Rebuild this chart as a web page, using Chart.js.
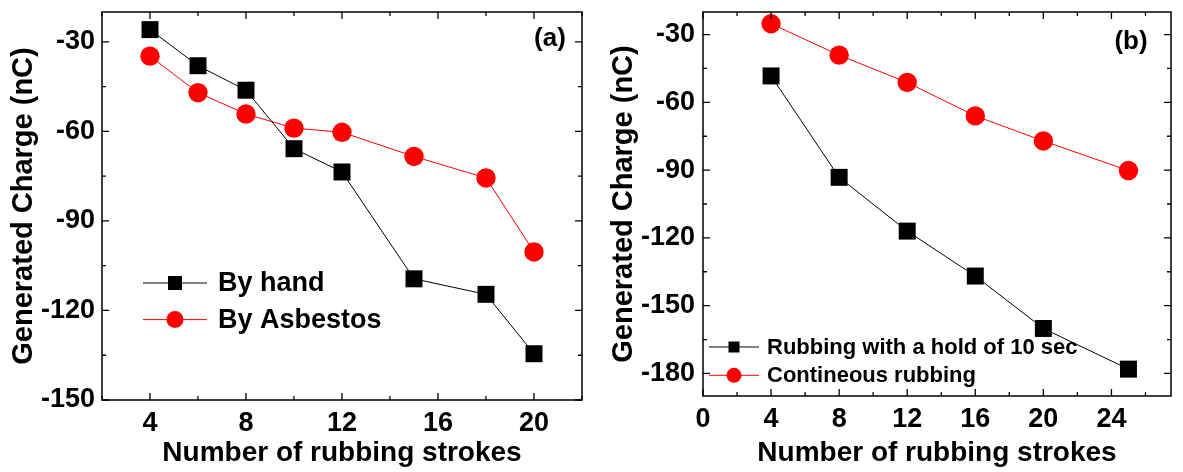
<!DOCTYPE html>
<html>
<head>
<meta charset="utf-8">
<script src="https://cdn.jsdelivr.net/npm/chart.js@4/dist/chart.umd.min.js"></script>
<style>
  html, body { margin: 0; padding: 0; background: #fff; }
  body { width: 1183px; height: 472px; position: relative; overflow: hidden; }
  canvas { position: absolute; top: 0; }
  #chartA { left: 0; }
  #chartB { left: 600px; }
</style>
</head>
<body>
<canvas id="chartA" width="600" height="472"></canvas>
<canvas id="chartB" width="583" height="472"></canvas>
<script>
// Panel (a): charge vs strokes, by hand / by asbestos
const strokesA = [4, 6, 8, 10, 12, 15, 18, 20]
const byHand = [-25.9, -38.0, -46.2, -65.8, -73.6, -109.4, -114.6, -134.5]
const byAsbestos = [-34.8, -47.0, -54.2, -58.9, -60.3, -68.4, -75.6, -100.4]
const xTicksA = [4, 8, 12, 16, 20]
const yTicksA = [-30, -60, -90, -120, -150]

// Panel (b): hold of 10 sec vs continuous rubbing
const strokesB = [4, 8, 12, 16, 20, 25]
const holdRubbing = [-48.3, -93.2, -117.0, -136.9, -160.1, -178.1]
const continuousRubbing = [-25.2, -39.1, -51.2, -66.0, -77.1, -90.2]
const xTicksB = [0, 4, 8, 12, 16, 20, 24]
const yTicksB = [-30, -60, -90, -120, -150, -180]

const FONT = "'Liberation Sans', Arial, sans-serif"
const BLACK = '#000000'
const RED = '#ff0000'

const toPoints = (xs, ys) => xs.map((x, i) => ({ x, y: ys[i] }))

// frame with inward major/minor ticks on all four sides, plus panel tag and legend
const framePlugin = {
    id: 'frame',
    afterDraw(chart, args, opts) {
        const { ctx, chartArea: a, scales } = chart
        ctx.save()
        ctx.strokeStyle = BLACK
        ctx.lineWidth = 1.5
        ctx.strokeRect(a.left, a.top, a.right - a.left, a.bottom - a.top)

        const tick = (scale, value, len) => {
            const p = scale.getPixelForValue(value)
            ctx.beginPath()
            if (scale.isHorizontal()) {
                ctx.moveTo(p, a.bottom); ctx.lineTo(p, a.bottom - len)
                ctx.moveTo(p, a.top); ctx.lineTo(p, a.top + len)
            } else {
                ctx.moveTo(a.left, p); ctx.lineTo(a.left + len, p)
                ctx.moveTo(a.right, p); ctx.lineTo(a.right - len, p)
            }
            ctx.stroke()
        }
        ctx.lineWidth = 1.3
        ;[scales.x, scales.y].forEach(scale => {
            const majors = opts[scale.id]
            const step = Math.abs(majors[1] - majors[0])
            majors.forEach(v => tick(scale, v, 7))
            const lo = Math.min(scale.min, scale.max), hi = Math.max(scale.min, scale.max)
            for (let v = Math.min(...majors) - step / 2; v <= hi; v += step) {
                if (v >= lo) tick(scale, v, 4)
            }
        })

        // panel tag
        ctx.fillStyle = BLACK
        ctx.font = `bold 26px ${FONT}`
        ctx.textAlign = 'center'
        ctx.textBaseline = 'middle'
        ctx.fillText(opts.tag, a.right + opts.tagDx, a.top + opts.tagDy)

        // legend: line - marker - line, then label
        const lg = opts.legend
        chart.data.datasets.forEach((ds, i) => {
            const y = lg.y + i * lg.rowGap
            ctx.strokeStyle = ds.borderColor
            ctx.lineWidth = 1
            ctx.beginPath()
            ctx.moveTo(lg.x, y); ctx.lineTo(lg.x + lg.lineLen, y)
            ctx.stroke()
            ctx.fillStyle = ds.pointBackgroundColor
            const cx = lg.x + lg.lineLen / 2
            if (ds.pointStyle === 'rect') {
                ctx.fillRect(cx - lg.square / 2, y - lg.square / 2, lg.square, lg.square)
            } else {
                ctx.beginPath()
                ctx.arc(cx, y, lg.circle / 2, 0, Math.PI * 2)
                ctx.fill()
            }
            ctx.fillStyle = BLACK
            ctx.font = `bold ${lg.size}px ${FONT}`
            ctx.textAlign = 'left'
            ctx.textBaseline = 'middle'
            ctx.fillText(ds.label, lg.x + lg.lineLen + lg.textGap, y + 1)
        })
        ctx.restore()
    }
}

function series(label, xs, ys, color, style, radius) {
    return {
        label,
        data: toPoints(xs, ys),
        borderColor: color,
        borderWidth: 1,
        pointBackgroundColor: color,
        pointBorderColor: color,
        pointBorderWidth: 0,
        pointStyle: style,
        pointRadius: radius,
        pointHoverRadius: radius,
        tension: 0,
        clip: false
    }
}

function axis(cfg) {
    return {
        type: 'linear',
        min: cfg.min,
        max: cfg.max,
        grid: { display: false, drawTicks: false },
        border: { display: false },
        ticks: {
            color: BLACK,
            font: { family: FONT, size: 27, weight: 'bold' },
            padding: cfg.tickPad,
            autoSkip: false,
            maxRotation: 0
        },
        afterBuildTicks: s => { s.ticks = cfg.ticks.map(v => ({ value: v })) },
        afterFit: s => {
            if (cfg.width) s.width = cfg.width
            if (cfg.height) s.height = cfg.height
            // let the layout padding alone decide the plot box
            s.paddingTop = 0; s.paddingBottom = 0; s.paddingLeft = 0; s.paddingRight = 0
        },
        title: {
            display: true,
            text: cfg.title,
            color: BLACK,
            font: { family: FONT, size: cfg.titleSize, weight: 'bold' },
            padding: cfg.titlePad
        }
    }
}

function makeChart(canvas, datasets, x, y, padding, frame) {
    return new Chart(canvas, {
        type: 'line',
        data: { datasets },
        options: {
            responsive: false,
            animation: false,
            devicePixelRatio: 1,
            layout: { padding },
            plugins: {
                legend: { display: false },
                tooltip: { enabled: false },
                frame
            },
            scales: { x: axis(x), y: axis(y) }
        },
        plugins: [framePlugin]
    })
}

makeChart(document.getElementById('chartA'),
    [
        series('By hand', strokesA, byHand, BLACK, 'rect', 12),
        series('By Asbestos', strokesA, byAsbestos, RED, 'circle', 9.7)
    ],
    { min: 2, max: 22, ticks: xTicksA, tickPad: 7, height: 72, title: 'Number of rubbing strokes', titleSize: 28, titlePad: { top: 0, bottom: 2 } },
    { min: -150, max: -20, ticks: yTicksA, tickPad: 7, width: 102, title: 'Generated Charge (nC)', titleSize: 29, titlePad: { top: 7, bottom: 0 } },
    { top: 9, right: 18, left: 0, bottom: 0 },
    {
        x: xTicksA, y: yTicksA, tag: '(a)', tagDx: -32, tagDy: 27,
        legend: { x: 143, y: 283, rowGap: 36.6, lineLen: 64, square: 14, circle: 17, size: 27, textGap: 11 }
    })

makeChart(document.getElementById('chartB'),
    [
        series('Rubbing with a hold of 10 sec', strokesB, holdRubbing, BLACK, 'rect', 12),
        series('Contineous rubbing', strokesB, continuousRubbing, RED, 'circle', 9.7)
    ],
    { min: 0, max: 27.5, ticks: xTicksB, tickPad: 7, height: 76, title: 'Number of rubbing strokes', titleSize: 28, titlePad: { top: 0, bottom: 2 } },
    { min: -190, max: -20, ticks: yTicksB, tickPad: 8, width: 103, title: 'Generated Charge (nC)', titleSize: 29, titlePad: { top: 7, bottom: 0 } },
    { top: 9, right: 1, left: 0, bottom: 0 },
    {
        x: xTicksB, y: yTicksB, tag: '(b)', tagDx: -40, tagDy: 30,
        legend: { x: 109, y: 347, rowGap: 28.3, lineLen: 50, square: 11, circle: 15, size: 22, textGap: 8 }
    })
</script>
</body>
</html>
